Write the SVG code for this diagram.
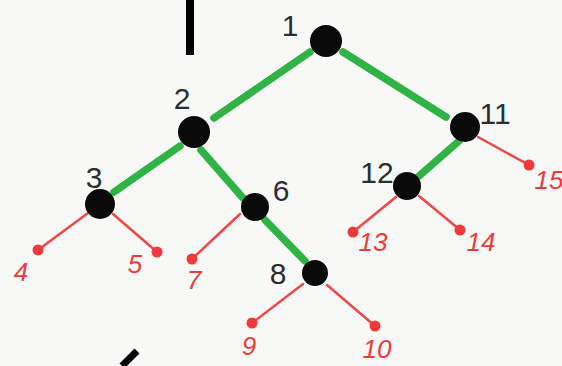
<svg xmlns="http://www.w3.org/2000/svg" width="562" height="366" viewBox="0 0 562 366">
<style>
.g{stroke:#2fb344;stroke-width:7.5;stroke-linecap:round;fill:none}
.r{stroke:#f04848;stroke-width:2.5;stroke-linecap:round;fill:none}
.n{fill:#0a0a0a}
.l{fill:#f03a3a}
.t{font-family:"Liberation Sans",sans-serif;fill:#2a2e33;text-anchor:middle;font-size:30px}
.tr{font-family:"Liberation Sans",sans-serif;fill:#f03a3a;text-anchor:middle;font-size:26px;font-style:italic}
</style>
<rect width="562" height="366" fill="#f8f8f6"/>
<rect x="186" y="0" width="8" height="55" fill="#000"/>
<line x1="122" y1="366" x2="137" y2="351" stroke="#000" stroke-width="7"/>
<g id="connectors">
<line class="g" x1="310" y1="52" x2="214" y2="118"/>
<line class="g" x1="343" y1="52" x2="446" y2="117"/>
<line class="g" x1="180" y1="146" x2="114" y2="192"/>
<line class="g" x1="201" y1="150" x2="243" y2="198"/>
<line class="g" x1="265" y1="220" x2="305" y2="261"/>
<line class="g" x1="459" y1="141" x2="419" y2="176"/>
<line class="r" x1="88" y1="213" x2="38" y2="250"/>
<line class="r" x1="113" y1="214" x2="157" y2="252"/>
<line class="r" x1="240" y1="214" x2="192" y2="259"/>
<line class="r" x1="303" y1="284" x2="252" y2="323"/>
<line class="r" x1="327" y1="285" x2="375" y2="326"/>
<line class="r" x1="396" y1="197" x2="353" y2="232"/>
<line class="r" x1="419" y1="196" x2="460" y2="230"/>
<line class="r" x1="478" y1="137" x2="529" y2="165"/>
</g>
<g id="n1"><circle class="n" cx="326" cy="41" r="16"/><text class="t" x="290" y="36">1</text></g>
<g id="n2"><circle class="n" cx="194" cy="132" r="16"/><text class="t" x="182" y="109">2</text></g>
<g id="n3"><circle class="n" cx="100" cy="204" r="15"/><text class="t" x="94" y="188">3</text></g>
<g id="n4"><circle class="l" cx="38" cy="250" r="5.5"/><text class="tr" x="21" y="281">4</text></g>
<g id="n5"><circle class="l" cx="157" cy="252" r="5.5"/><text class="tr" x="135" y="273">5</text></g>
<g id="n6"><circle class="n" cx="255" cy="207" r="14"/><text class="t" x="281" y="201">6</text></g>
<g id="n7"><circle class="l" cx="192" cy="259" r="5.5"/><text class="tr" x="194" y="289">7</text></g>
<g id="n8"><circle class="n" cx="315" cy="273" r="13"/><text class="t" x="278" y="284">8</text></g>
<g id="n9"><circle class="l" cx="252" cy="323" r="5.5"/><text class="tr" x="249" y="355">9</text></g>
<g id="n10"><circle class="l" cx="375" cy="326" r="5.5"/><text class="tr" x="377" y="358">10</text></g>
<g id="n11"><circle class="n" cx="465" cy="127" r="15"/><text class="t" x="495" y="124">11</text></g>
<g id="n12"><circle class="n" cx="407" cy="186" r="14"/><text class="t" x="377" y="183" font-size="24">12</text></g>
<g id="n13"><circle class="l" cx="353" cy="232" r="5.5"/><text class="tr" x="373" y="251">13</text></g>
<g id="n14"><circle class="l" cx="460" cy="230" r="5.5"/><text class="tr" x="481" y="251">14</text></g>
<g id="n15"><circle class="l" cx="529" cy="165" r="5.5"/><text class="tr" x="549" y="189">15</text></g>
</svg>
